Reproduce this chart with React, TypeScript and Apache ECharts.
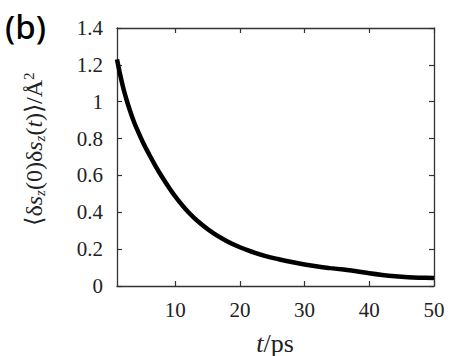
import React, { useEffect, useRef } from "react";
import * as echarts from "echarts";

const timePs = [1, 1.5, 2, 2.5, 3, 3.5, 4, 5, 6, 7, 8, 9, 10, 12, 14, 16, 18, 20, 22, 24, 26, 28, 30, 32, 34, 36, 38, 40, 42, 44, 46, 48, 50];
const corr = [1.23, 1.145, 1.07, 1.008, 0.952, 0.902, 0.858, 0.78, 0.712, 0.648, 0.59, 0.536, 0.486, 0.402, 0.336, 0.284, 0.243, 0.21, 0.184, 0.162, 0.145, 0.13, 0.117, 0.106, 0.097, 0.089, 0.08, 0.069, 0.06, 0.053, 0.048, 0.045, 0.043];
const xTicks = [10, 20, 30, 40, 50];
const panelLabel = "(b)";

const SERIF = "Liberation Serif";

export default function App() {
  const ref = useRef<HTMLDivElement>(null);
  useEffect(() => {
    if (!ref.current) return;
    const chart = echarts.init(ref.current, null, { renderer: "svg" });
    const axisColor = "#333";
    const data = timePs.map((t, i) => [t, corr[i]]);
    const lbl = { fontFamily: SERIF, fontSize: 21, color: "#222", fontStyle: "normal", fontWeight: "normal" };
    chart.setOption({
      animation: false,
      backgroundColor: "#fff",
      textStyle: { fontFamily: SERIF },
      grid: { left: 117, right: 39, top: 28, bottom: 70 },
      xAxis: [
        {
          type: "value", min: 1, max: 50, position: "bottom",
          axisLine: { show: true, onZero: false, lineStyle: { color: axisColor, width: 1.3 } },
          axisTick: { show: true, inside: true, length: 5, customValues: xTicks, lineStyle: { color: axisColor, width: 1.2 } },
          axisLabel: { show: true, customValues: xTicks, margin: 13, ...lbl },
          splitLine: { show: false },
        },
        {
          type: "value", min: 1, max: 50, position: "top",
          axisLine: { show: true, onZero: false, lineStyle: { color: axisColor, width: 1.3 } },
          axisTick: { show: true, inside: true, length: 5, customValues: xTicks, lineStyle: { color: axisColor, width: 1.2 } },
          axisLabel: { show: false },
          splitLine: { show: false },
        },
      ],
      yAxis: [
        {
          type: "value", min: 0, max: 1.4, interval: 0.2, position: "left",
          axisLine: { show: true, onZero: false, lineStyle: { color: axisColor, width: 1.3 } },
          axisTick: { show: true, inside: true, length: 5, lineStyle: { color: axisColor, width: 1.2 } },
          axisLabel: { margin: 14, ...lbl },
          splitLine: { show: false },
        },
        {
          type: "value", min: 0, max: 1.4, interval: 0.2, position: "right",
          axisLine: { show: true, onZero: false, lineStyle: { color: axisColor, width: 1.3 } },
          axisTick: { show: true, inside: true, length: 5, lineStyle: { color: axisColor, width: 1.2 } },
          axisLabel: { show: false },
          splitLine: { show: false },
        },
      ],
      series: [
        {
          type: "line",
          data,
          smooth: 0.4,
          showSymbol: false,
          lineStyle: { color: "#000", width: 4.5 },
          clip: true,
        },
      ],
      graphic: [
        {
          type: "text",
          left: 5, top: 10,
          style: { text: panelLabel, fontFamily: "Noto Sans", fontWeight: 500, fontSize: 33, fill: "#000" },
        },
        {
          type: "text",
          x: 34, y: 149,
          rotation: Math.PI / 2,
          style: {
            text: "{a|⟨δ}{i|s}{s|z}{a|(0)δ}{i|s}{s|z}{a|(}{i|t}{a|)⟩/Å}{p|2}",
            align: "center",
            verticalAlign: "middle",
            fill: "#222",
            rich: {
              a: { fontFamily: SERIF, fontSize: 24, lineHeight: 26, fill: "#222" },
              i: { fontFamily: SERIF, fontStyle: "italic", fontSize: 24, lineHeight: 26, fill: "#222" },
              s: { fontFamily: SERIF, fontStyle: "italic", fontSize: 15, lineHeight: 15, verticalAlign: "bottom", fill: "#222" },
              p: { fontFamily: SERIF, fontSize: 15, lineHeight: 15, verticalAlign: "top", fill: "#222" },
            },
          },
        },
        {
          type: "text",
          x: 275, y: 343,
          style: {
            text: "{i|t}{a|/ps}",
            align: "center",
            verticalAlign: "middle",
            fill: "#222",
            rich: {
              a: { fontFamily: SERIF, fontSize: 26, fill: "#222" },
              i: { fontFamily: SERIF, fontStyle: "italic", fontSize: 26, fill: "#222" },
            },
          },
        },
      ],
    });
    return () => chart.dispose();
  }, []);
  return <div ref={ref} style={{ width: 473, height: 356, position: "absolute", left: 0, top: 0 }} />;
}
